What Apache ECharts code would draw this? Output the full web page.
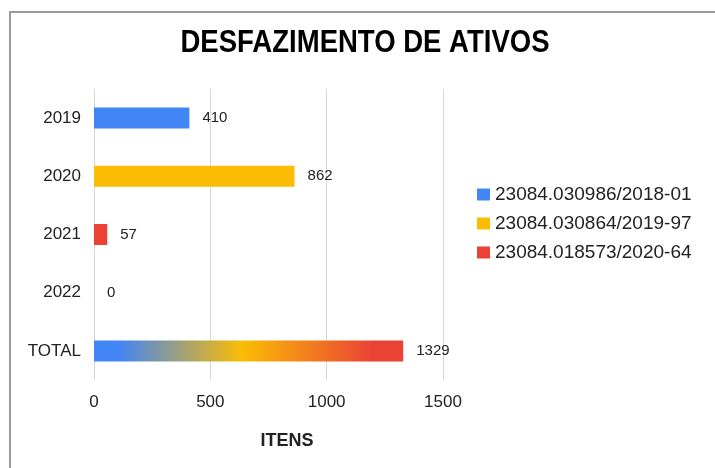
<!DOCTYPE html>
<html>
<head>
<meta charset="utf-8">
<script src="https://cdn.jsdelivr.net/npm/echarts@6/dist/echarts.min.js"></script>
<style>
  html, body { margin: 0; padding: 0; background: #fff; }
  #frame {
    position: absolute; left: 9px; top: 11px; width: 706px; height: 457px;
    border-top: 2px solid #9a9a9a; border-left: 2px solid #9a9a9a;
  }
  #desfazimento-chart { position: absolute; left: 0; top: 0; width: 715px; height: 468px; }
</style>
</head>
<body>
<div id="frame"></div>
<div id="desfazimento-chart"></div>
<script>
// dados
const anos = ['2019', '2020', '2021', '2022', 'TOTAL'];
const processos = ['23084.030986/2018-01', '23084.030864/2019-97', '23084.018573/2020-64'];
const itensPorAno = [410, 862, 57, 0];
const itensTotal = 1329;
const cores = ['#4285F4', '#FBBC04', '#EA4335'];
const xTicks = [0, 500, 1000, 1500];

const fonte = '"Liberation Sans", Arial, sans-serif';

const myChart = echarts.init(document.getElementById('desfazimento-chart'), null, { renderer: 'canvas' });

let series = [];
for (let i = 0; i < processos.length; i++) {
  series.push({
    name: processos[i],
    type: 'bar',
    stack: 'itens',
    barWidth: 21,
    itemStyle: { color: cores[i] },
    label: { show: true, position: 'right', distance: 13, fontSize: 15, color: '#222', fontFamily: fonte },
    data: anos.map((a, j) => (j === i ? itensPorAno[i] : '-'))
  });
}

// 2022 (zero) e TOTAL com degrade
series.push({
  name: 'Total',
  type: 'bar',
  stack: 'itens',
  barWidth: 21,
  label: { show: true, position: 'right', distance: 13, fontSize: 15, color: '#222', fontFamily: fonte },
  data: anos.map((a, j) => {
    if (j === 3) return { value: itensPorAno[3], itemStyle: { color: cores[2] } };
    if (j === 4) return {
      value: itensTotal,
      itemStyle: {
        color: new echarts.graphic.LinearGradient(0, 0, 1, 0, [
          { offset: 0, color: cores[0] },
          { offset: 0.08, color: cores[0] },
          { offset: 0.48, color: cores[1] },
          { offset: 0.9, color: cores[2] },
          { offset: 1, color: cores[2] }
        ])
      }
    };
    return '-';
  })
});

const option = {
  animation: false,
  title: {
    text: 'ITENS',
    left: 282, top: 427, textAlign: 'center',
    textStyle: { fontSize: 18, fontWeight: 'bold', color: '#222', fontFamily: fonte }
  },
  // titulo condensado
  graphic: [{
    type: 'text',
    x: 365, y: 43,
    scaleX: 0.86,
    style: {
      text: 'DESFAZIMENTO DE ATIVOS',
      font: 'bold 32px ' + fonte,
      fill: '#000',
      align: 'center',
      verticalAlign: 'middle'
    }
  }],
  legend: {
    data: processos,
    orient: 'vertical',
    left: 477, top: 185,
    padding: 0,
    icon: 'rect',
    itemWidth: 13, itemHeight: 12, itemGap: 10,
    textStyle: { fontSize: 19, color: '#222', fontFamily: fonte }
  },
  grid: { left: 94, right: 272, top: 89, bottom: 88 },
  xAxis: {
    type: 'value',
    min: xTicks[0], max: xTicks[xTicks.length - 1], interval: 500,
    axisLine: { show: false },
    axisTick: { show: false },
    splitLine: { lineStyle: { color: '#d6d6d6', width: 1 } },
    axisLabel: { fontSize: 17, color: '#222', margin: 14, fontFamily: fonte, formatter: v => String(v) }
  },
  yAxis: {
    type: 'category',
    data: anos,
    inverse: true,
    axisLine: { show: false },
    axisTick: { show: false },
    axisLabel: { fontSize: 17, color: '#222', margin: 13, fontFamily: fonte }
  },
  series: series
};

option && myChart.setOption(option);
</script>
</body>
</html>
